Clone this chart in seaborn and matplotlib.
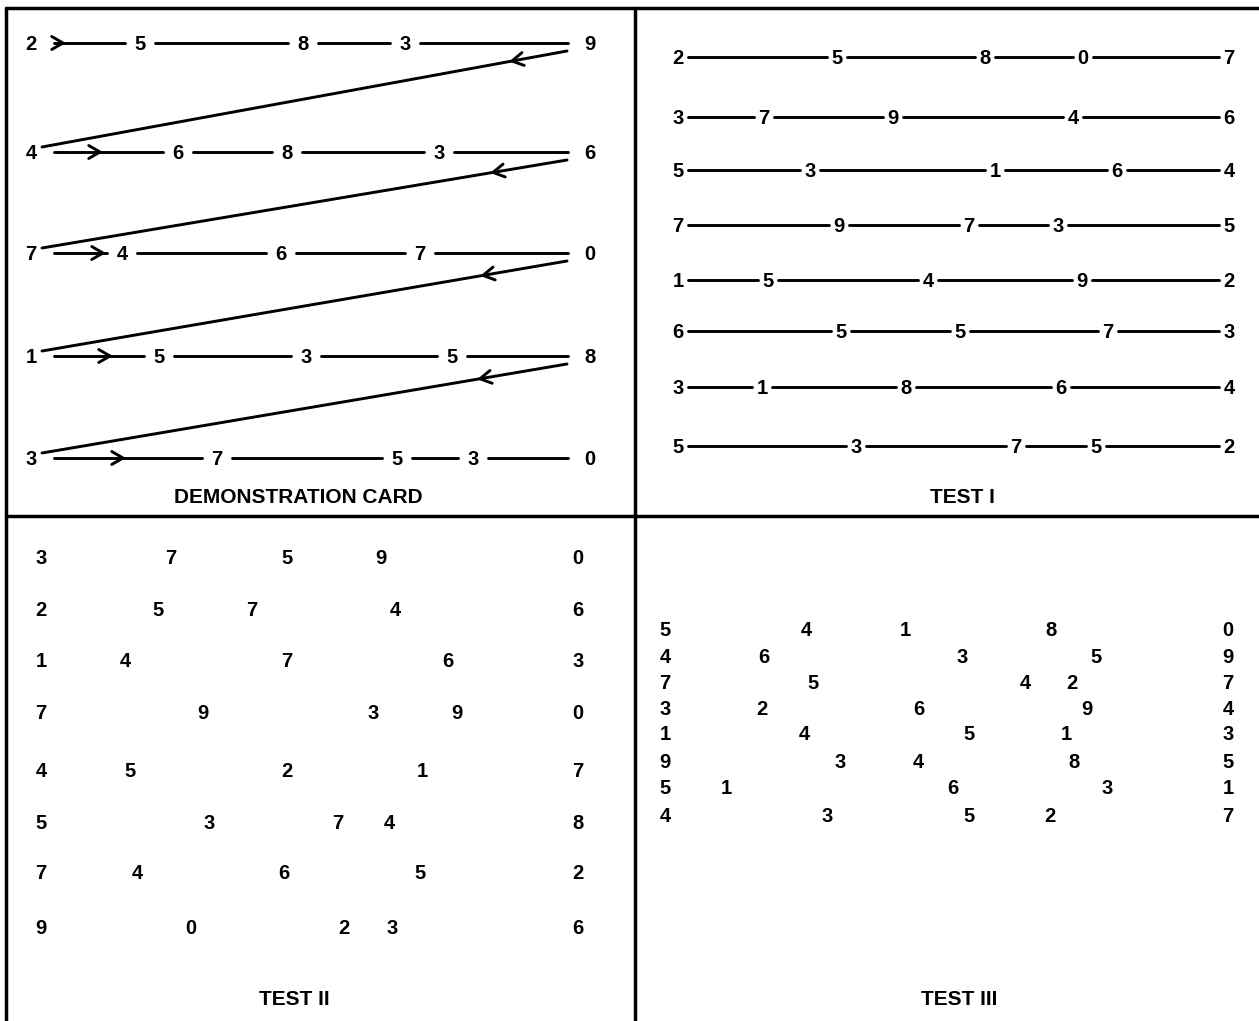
import numpy as np
import pandas as pd
import seaborn as sns
import matplotlib.pyplot as plt

# ---- data read off the card (digits and their pixel positions) ----
# demonstration card
demo_rows = [[2, 5, 8, 3, 9], [4, 6, 8, 3, 6], [7, 4, 6, 7, 0], [1, 5, 3, 5, 8], [3, 7, 5, 3, 0]]
demo_x = [[31, 140, 303, 405, 590], [31, 178, 287, 439, 590], [31, 122, 281, 420, 590],
          [31, 159, 306, 452, 590], [31, 217, 397, 473, 590]]
demo_y = [43, 152, 253, 356, 458]
demo_arrow_x = [63, 100, 103, 110, 123]   # tips of the ">" on first segment
demo_back_x = [512, 493, 483, 480]        # tips of the "<" on return sweeps

# test I
test1_rows = [[2, 5, 8, 0, 7], [3, 7, 9, 4, 6], [5, 3, 1, 6, 4], [7, 9, 7, 3, 5],
              [1, 5, 4, 9, 2], [6, 5, 5, 7, 3], [3, 1, 8, 6, 4], [5, 3, 7, 5, 2]]
test1_x = [[678, 837, 985, 1083, 1229], [678, 764, 893, 1073, 1229], [678, 810, 995, 1117, 1229],
           [678, 839, 969, 1058, 1229], [678, 768, 928, 1082, 1229], [678, 841, 960, 1108, 1229],
           [678, 762, 906, 1061, 1229], [678, 856, 1016, 1096, 1229]]
test1_y = [57, 117, 170, 225, 280, 331, 387, 446]

# test II
test2_rows = [[3, 7, 5, 9, 0], [2, 5, 7, 4, 6], [1, 4, 7, 6, 3], [7, 9, 3, 9, 0],
              [4, 5, 2, 1, 7], [5, 3, 7, 4, 8], [7, 4, 6, 5, 2], [9, 0, 2, 3, 6]]
test2_x = [[41, 171, 287, 381, 578], [41, 158, 252, 395, 578], [41, 125, 287, 448, 578],
           [41, 203, 373, 457, 578], [41, 130, 287, 422, 578], [41, 209, 338, 389, 578],
           [41, 137, 284, 420, 578], [41, 191, 344, 392, 578]]
test2_y = [557, 609, 660, 712, 770, 822, 872, 927]

# test III
test3_rows = [[5, 4, 1, 8, 0], [4, 6, 3, 5, 9], [7, 5, 4, 2, 7], [3, 2, 6, 9, 4],
              [1, 4, 5, 1, 3], [9, 3, 4, 8, 5], [5, 1, 6, 3, 1], [4, 3, 5, 2, 7]]
test3_x = [[665, 806, 905, 1051, 1228], [665, 764, 962, 1096, 1228], [665, 813, 1025, 1072, 1228],
           [665, 762, 919, 1087, 1228], [665, 804, 969, 1066, 1228], [665, 840, 918, 1074, 1228],
           [665, 726, 953, 1107, 1228], [665, 827, 969, 1050, 1228]]
test3_y = [629, 656, 682, 708, 733, 761, 787, 815]

titles = ["DEMONSTRATION CARD", "TEST I", "TEST II", "TEST III"]

W, H = 1259, 1021

sns.set_style("white")
plt.rcParams['font.family'] = ['Liberation Sans', 'DejaVu Sans']

fig = plt.figure(figsize=(W / 100, H / 100), dpi=100)
ax = fig.add_axes([0, 0, 1, 1])

# collect line pieces as (x, y, seg) rows
rows = []
seg_id = [0]


def add_line(pts, kind):
    for (px, py) in pts:
        rows.append({"x": px, "y": py, "seg": seg_id[0], "kind": kind})
    seg_id[0] += 1


def chevron(tip, direction, kind, length=13, ang=30):
    d = np.array(direction, dtype=float)
    d = d / np.linalg.norm(d)
    a = np.deg2rad(ang)
    pts = []
    for s in (1, -1):
        c, sn = np.cos(s * a), np.sin(s * a)
        r = np.array([c * d[0] - sn * d[1], sn * d[0] + c * d[1]])
        pts.append(np.array(tip) - length * r)
    add_line([tuple(pts[0]), tuple(tip), tuple(pts[1])], kind)


# frame
add_line([(6, 8), (W, 8)], "frame")
add_line([(6, 8), (6, H)], "frame")
add_line([(635, 8), (635, H)], "frame")
add_line([(6, 516), (W, 516)], "frame")

# demonstration card lines
for i, xs in enumerate(demo_x):
    y = demo_y[i]
    for j in range(len(xs) - 1):
        x0 = xs[j] + (23 if j == 0 else 15)
        x1 = xs[j + 1] - (22 if j == len(xs) - 2 else 15)
        add_line([(x0, y), (x1, y)], "demo")
    chevron((demo_arrow_x[i], y), (1, 0), "demo")
    if i < len(demo_x) - 1:
        p0 = np.array([567, y + 8])
        p1 = np.array([42, demo_y[i + 1] - 5])
        add_line([tuple(p0), tuple(p1)], "demo")
        t = (p0[0] - demo_back_x[i]) / (p0[0] - p1[0])
        tip = p0 + t * (p1 - p0)
        chevron(tuple(tip), tuple(p1 - p0), "demo")

# test I lines
for i, xs in enumerate(test1_x):
    y = test1_y[i]
    for j in range(len(xs) - 1):
        add_line([(xs[j] + 10, y), (xs[j + 1] - 10, y)], "test1")

df = pd.DataFrame(rows)
for kind, lw in [("frame", 2.5), ("demo", 2.1), ("test1", 2.1)]:
    sns.lineplot(data=df[df["kind"] == kind], x="x", y="y", units="seg", estimator=None,
                 sort=False, color="black", linewidth=lw, legend=False, ax=ax)

# digits
for digits, xs, ys in [(demo_rows, demo_x, demo_y), (test1_rows, test1_x, test1_y),
                       (test2_rows, test2_x, test2_y), (test3_rows, test3_x, test3_y)]:
    for i, row in enumerate(digits):
        for j, d in enumerate(row):
            ax.text(xs[i][j], ys[i] + 7.2, str(d), ha="center", va="baseline",
                    fontsize=14.5, fontweight="bold", color="black")

# panel titles
for t, (tx, ty) in zip(titles, [(298, 503), (962, 503), (294, 1005), (959, 1005)]):
    ax.text(tx, ty, t, ha="center", va="baseline", fontsize=15, fontweight="bold", color="black")

ax.set_xlim(0, W)
ax.set_ylim(H, 0)
ax.axis("off")

fig.savefig("out.png", dpi=100, facecolor="white")
